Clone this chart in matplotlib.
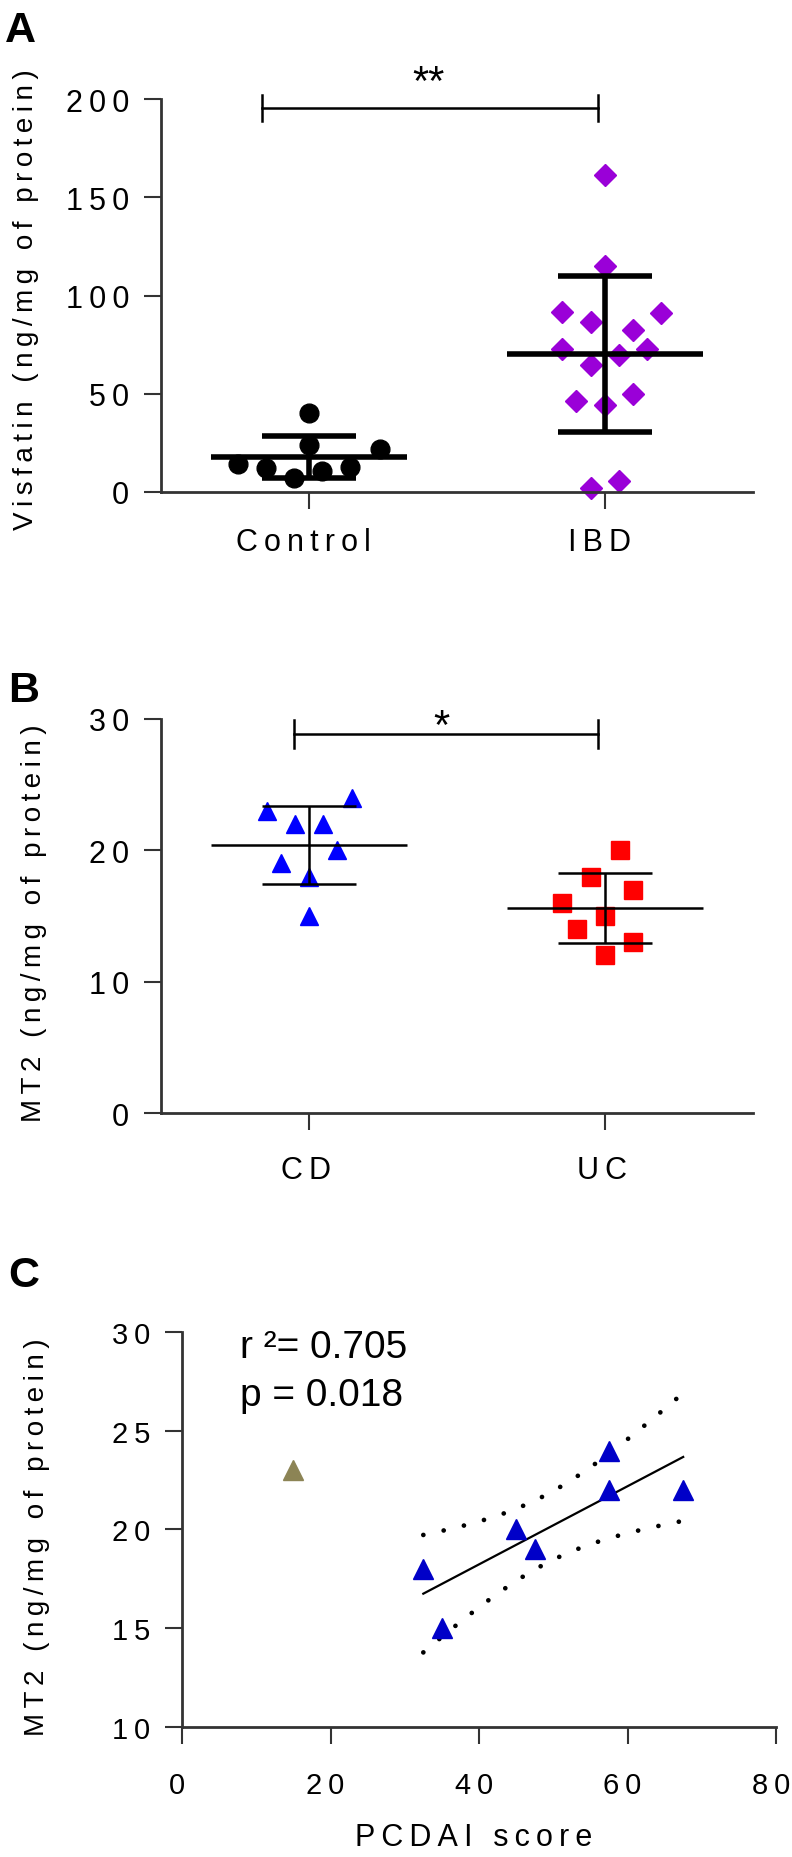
import numpy as np
import matplotlib
matplotlib.use('Agg')
import matplotlib.pyplot as plt
from matplotlib.transforms import ScaledTranslation

plt.rcParams['font.family'] = ['Liberation Sans', 'DejaVu Sans']

# panel A: visfatin, control vs IBD
groups_a = ['Control', 'IBD']
control = [40, 24, 22, 14.2, 12.2, 7.3, 10.9, 12.7]
control_jitter = [0, 0, 0.24, -0.24, -0.146, -0.05, 0.045, 0.14]
ibd = [161.2, 114.8, 91.6, 91.1, 86.5, 82.3, 72.9, 72.9, 69.6, 64.7,
       49.7, 46.4, 44.3, 5.5, 2.2]
ibd_jitter = [0, 0, -0.146, 0.19, -0.048, 0.094, -0.146, 0.142, 0.046,
              -0.048, 0.094, -0.098, 0, 0.046, -0.048]

# panel B: MT2, CD vs UC
groups_b = ['CD', 'UC']
cd = [24, 23, 22, 22, 20, 19, 18, 15]
cd_jitter = [0.146, -0.142, -0.046, 0.048, 0.094, -0.094, 0, 0]
uc = [20, 18, 17, 16, 15, 14, 13, 12]
uc_jitter = [0.05, -0.048, 0.094, -0.146, 0, -0.096, 0.094, 0]

# panel C: MT2 vs PCDAI
pcdai = [32.5, 35, 45, 47.5, 57.5, 57.5, 67.5]
mt2_cd = [18, 15, 20, 19, 24, 22, 22]
outlier_pcdai = [15]
outlier_mt2 = [23]
r2_text = 'r \u00b2= 0.705'
p_text = 'p = 0.018'
T_CRIT = 2.5706  # t(0.975, df=5)

W, H = 792, 1858
AXIS_COLOR = '#333333'
TS = '\u2009'  # thin space


def sp(s):
    # fake letter spacing with thin spaces
    return TS.join(s)


def style(ax, xpad, ypad, size=22, xshift=-4):
    for side in ['top', 'right']:
        ax.spines[side].set_visible(False)
    for side in ['left', 'bottom']:
        ax.spines[side].set_color(AXIS_COLOR)
        ax.spines[side].set_linewidth(2)
    ax.tick_params(length=12, width=1.5, color=AXIS_COLOR, labelsize=size)
    ax.tick_params(axis='x', pad=xpad)
    ax.tick_params(axis='y', pad=ypad)
    # x labels sit a little left of their ticks in the original
    off = ScaledTranslation(xshift / 100, 0, fig.dpi_scale_trans)
    for lab in ax.get_xticklabels():
        lab.set_transform(lab.get_transform() + off)


def dot_group(ax, pos, vals, jitter, marker, color, ms, lw):
    vals = np.array(vals)
    ax.plot(pos + np.array(jitter), vals, marker, color=color, ms=ms,
            ls='none', zorder=2, clip_on=False)
    m = vals.mean()
    s = vals.std(ddof=1)
    ax.hlines(m, pos - 0.33, pos + 0.33, color='black', lw=lw, zorder=3)
    ax.hlines([m - s, m + s], pos - 0.16, pos + 0.16, color='black', lw=lw, zorder=3)
    ax.vlines(pos, m - s, m + s, color='black', lw=lw, zorder=3)


def sig_bar(ax, x0, x1, y, tick, label, tx, ty, fs):
    ax.plot([x0, x1], [y, y], color='black', lw=1.8, clip_on=False)
    ax.plot([x0, x0], [y - tick, y + tick], color='black', lw=1.8, clip_on=False)
    ax.plot([x1, x1], [y - tick, y + tick], color='black', lw=1.8, clip_on=False)
    ax.text(tx, ty, label, ha='center', va='center', fontsize=fs)


def panel_letter(x, baseline, s):
    fig.text(x / W, 1 - baseline / H, s, fontsize=31, fontweight='bold',
             ha='left', va='baseline')


fig = plt.figure(figsize=(W / 100, H / 100), dpi=100)

# ---- A ----
ax = fig.add_axes([161 / W, 1 - 493 / H, 592 / W, 393 / H])
dot_group(ax, 0, control, control_jitter, 'o', 'black', 13.5, 4)
dot_group(ax, 1, ibd, ibd_jitter, 'D', '#9A00D8', 11, 4)
ax.set_xlim(-0.5, 1.5)
ax.set_ylim(0, 200)
yt = np.arange(0, 201, 50)
ax.set_yticks(yt, [sp(str(v)) for v in yt])
ax.set_xticks([0, 1], [sp(g) for g in groups_a])
style(ax, 13, 11, xshift=-6)
sig_bar(ax, -0.16, 0.975, 195.4, 6.6, '**', 0.403, 208, 30)
fig.text(26 / W, 1 - 300 / H, sp('Visfatin (ng/mg of protein)'), rotation=90,
         ha='center', va='center', fontsize=20)
panel_letter(5, 42, 'A')

# ---- B ----
ax = fig.add_axes([161 / W, 1 - 1114 / H, 592 / W, 394 / H])
dot_group(ax, 0, cd, cd_jitter, '^', '#0000FF', 13, 1.8)
dot_group(ax, 1, uc, uc_jitter, 's', '#FF0000', 13, 1.8)
ax.set_xlim(-0.5, 1.5)
ax.set_ylim(0, 30)
yt = np.arange(0, 31, 10)
ax.set_yticks(yt, [sp(str(v)) for v in yt])
ax.set_xticks([0, 1], [sp(g) for g in groups_b])
style(ax, 18, 11, xshift=-3)
sig_bar(ax, -0.052, 0.975, 28.84, 1.05, '*', 0.446, 29.4, 30)
fig.text(34 / W, 1 - 923 / H, sp('MT2 (ng/mg of protein)'), rotation=90,
         ha='center', va='center', fontsize=20)
panel_letter(8, 702, 'B')

# ---- C ----
ax = fig.add_axes([182 / W, 1 - 1728 / H, 594 / W, 395 / H])
x = np.array(pcdai)
y = np.array(mt2_cd)
slope, intercept = np.polyfit(x, y, 1)
xs = np.linspace(x.min(), x.max(), 200)
fit = slope * xs + intercept
n = len(x)
resid = y - (slope * x + intercept)
s_err = np.sqrt(np.sum(resid ** 2) / (n - 2))
sxx = np.sum((x - x.mean()) ** 2)
ci = T_CRIT * s_err * np.sqrt(1 / n + (xs - x.mean()) ** 2 / sxx)
ax.plot(xs, fit, color='black', lw=1.6, zorder=2)
for band in (fit - ci, fit + ci):
    ax.plot(xs, band, color='black', lw=3.4, ls=(0, (0.01, 4.4)),
            dash_capstyle='round', zorder=2)
ax.plot(x, y, '^', color='#0000C8', ms=14, ls='none', zorder=3)
ax.plot(outlier_pcdai, outlier_mt2, '^', color='#8C8455', ms=14, ls='none', zorder=3)
ax.set_xlim(0, 80)
ax.set_ylim(10, 30)
xt = np.arange(0, 81, 20)
ax.set_xticks(xt, [sp(str(v)) for v in xt])
yt = np.arange(10, 31, 5)
ax.set_yticks(yt, [sp(str(v)) for v in yt])
style(ax, 20, 11, size=21, xshift=-5)
ax.text(7.8, 28.73, r2_text, fontsize=28, ha='left', va='baseline')
ax.text(7.8, 26.3, p_text, fontsize=28, ha='left', va='baseline')
fig.text(37 / W, 1 - 1537 / H, sp('MT2 (ng/mg of protein)'), rotation=90,
         ha='center', va='center', fontsize=20)
fig.text(474 / W, 1 - 1838 / H, sp('PCDAI score'), ha='center', va='center', fontsize=22)
panel_letter(8, 1287, 'C')

fig.savefig('out.png', dpi=100)
